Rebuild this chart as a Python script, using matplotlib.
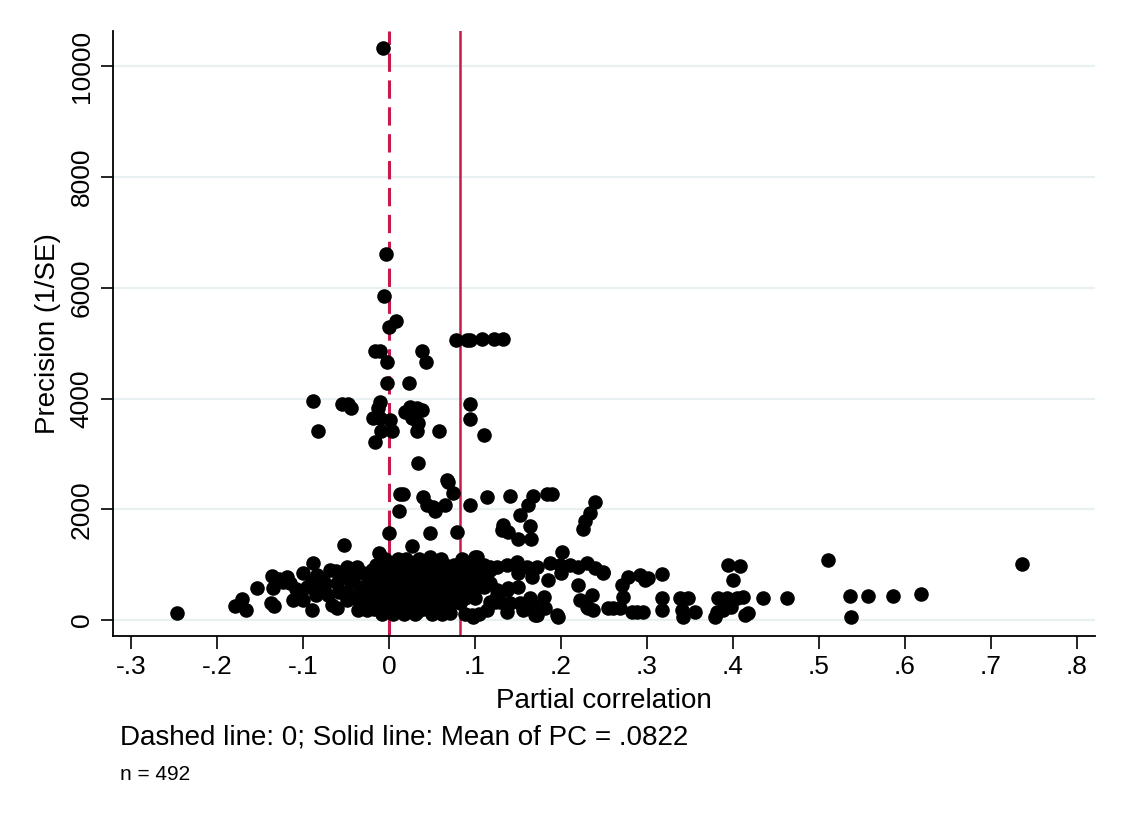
import numpy as np
import matplotlib
matplotlib.use('Agg')
from matplotlib import pyplot as plt

plt.rcParams['font.family'] = ['Liberation Sans', 'DejaVu Sans']

# (partial correlation, precision) pairs
upper = [
    (-0.007, 10340), (-0.003, 6618), (-0.006, 5860), (0.008, 5407), (0.000, 5298),
    (0.078, 5063), (0.091, 5063), (0.094, 5063), (0.108, 5080), (0.122, 5080), (0.133, 5080),
    (-0.016, 4864), (-0.010, 4864), (0.038, 4864), (-0.002, 4665), (0.043, 4665),
    (-0.002, 4286), (0.023, 4286), (-0.088, 3960), (-0.055, 3906), (-0.048, 3906),
    (-0.044, 3834), (-0.010, 3942), (-0.013, 3834), (-0.019, 3653), (-0.010, 3653),
    (0.001, 3617), (0.019, 3761), (0.024, 3852), (0.033, 3834), (0.038, 3797),
    (0.027, 3653), (0.034, 3562), (-0.083, 3418), (-0.009, 3418), (0.003, 3418),
    (0.033, 3418), (0.058, 3418), (-0.016, 3219), (0.094, 3906), (0.094, 3635),
    (0.110, 3345), (0.034, 2839), (0.067, 2532), (0.069, 2495), (0.074, 2297),
    (0.013, 2278), (0.016, 2278), (0.040, 2224), (0.044, 2080), (0.051, 2043),
    (0.053, 1971), (0.065, 2080), (0.012, 1971), (0.094, 2080), (0.114, 2224),
    (0.141, 2242), (0.167, 2242), (0.162, 2080), (0.152, 1899), (0.184, 2278),
    (0.190, 2278), (0.240, 2134), (0.234, 1935), (0.228, 1790), (0.226, 1646),
    (0.133, 1718), (0.164, 1700), (0.131, 1627), (0.138, 1591), (0.150, 1465),
    (0.165, 1465), (0.000, 1573), (0.048, 1573), (0.079, 1591), (0.201, 1230),
    (-0.052, 1356), (0.027, 1338), (-0.012, 1212),
]

left = [
    (-0.246, 127), (-0.179, 253), (-0.171, 380), (-0.166, 181), (-0.153, 579),
    (-0.136, 796), (-0.135, 579), (-0.137, 307), (-0.134, 253), (-0.119, 777),
    (-0.115, 669), (-0.100, 850), (-0.084, 814), (-0.095, 597), (-0.080, 579),
    (-0.069, 904), (-0.060, 669), (-0.049, 958), (-0.042, 777), (-0.037, 958),
    (-0.034, 597), (-0.112, 362), (-0.100, 362), (-0.090, 181), (-0.066, 271),
    (-0.060, 217), (-0.049, 362), (-0.036, 181), (-0.026, 181), (-0.019, 362),
    (-0.022, 723), (-0.014, 958), (-0.010, 850), (-0.007, 597), (-0.010, 416),
    (-0.005, 235), (-0.077, 723), (-0.071, 452), (-0.049, 506), (-0.103, 488),
    (-0.123, 690), (-0.088, 1031), (-0.128, 740), (-0.108, 560), (-0.090, 700),
    (-0.075, 650), (-0.055, 820), (-0.045, 700), (-0.030, 850), (-0.030, 450),
    (-0.058, 500), (-0.040, 400), (-0.085, 450), (-0.062, 880), (-0.028, 300),
]

# dense core between 0 and the mean line
core = [
    (-0.005, 1100), (0.010, 1100), (0.020, 1100), (0.035, 1100), (0.060, 1100), (0.085, 1100),
    (-0.015, 1000), (0.000, 1000), (0.012, 1000), (0.025, 1000), (0.040, 1000), (0.050, 1000),
    (0.065, 1000), (0.075, 1000), (0.090, 1000), (0.100, 1000), (0.110, 1000),
    (-0.020, 900), (-0.005, 900), (0.008, 900), (0.018, 900), (0.030, 900), (0.045, 900),
    (0.055, 900), (0.070, 900), (0.082, 900), (0.095, 900), (0.105, 900), (0.118, 900),
    (-0.025, 800), (-0.010, 800), (0.002, 800), (0.015, 800), (0.028, 800), (0.038, 800),
    (0.052, 800), (0.062, 800), (0.078, 800), (0.088, 800), (0.100, 800), (0.112, 800),
    (-0.018, 700), (-0.004, 700), (0.010, 700), (0.022, 700), (0.035, 700), (0.048, 700),
    (0.060, 700), (0.072, 700), (0.085, 700), (0.097, 700), (0.108, 700),
    (-0.022, 600), (-0.008, 600), (0.005, 600), (0.020, 600), (0.032, 600), (0.044, 600),
    (0.058, 600), (0.068, 600), (0.080, 600), (0.092, 600), (0.104, 600),
    (-0.015, 500), (0.000, 500), (0.013, 500), (0.026, 500), (0.040, 500), (0.055, 500),
    (0.066, 500), (0.078, 500), (0.090, 500),
    (-0.020, 400), (-0.006, 400), (0.008, 400), (0.022, 400), (0.035, 400), (0.050, 400),
    (0.062, 400), (0.075, 400), (0.088, 400), (0.100, 400),
    (-0.012, 300), (0.002, 300), (0.015, 300), (0.030, 300), (0.045, 300), (0.060, 300),
    (0.072, 300), (0.083, 300),
    (-0.018, 200), (-0.005, 200), (0.010, 200), (0.024, 200), (0.040, 200), (0.055, 200),
    (0.068, 200),
    (-0.008, 100), (0.005, 100), (0.018, 100), (0.030, 100), (0.050, 100), (0.062, 100),
    (0.088, 100), (0.105, 100),
]

right = [
    (0.048, 1139), (0.059, 1085), (0.102, 1139), (0.097, 868), (0.114, 904), (0.100, 1139),
    (0.117, 958), (0.126, 958), (0.137, 994), (0.149, 1049), (0.160, 958), (0.172, 958),
    (0.187, 1031), (0.199, 994), (0.210, 994), (0.220, 958), (0.230, 1031), (0.240, 940),
    (0.249, 850), (0.166, 777), (0.185, 723), (0.117, 669), (0.126, 542), (0.137, 542),
    (0.220, 633), (0.222, 362), (0.236, 452), (0.230, 235), (0.237, 181),
    (0.117, 325), (0.129, 325), (0.141, 307), (0.152, 307), (0.164, 398), (0.167, 271),
    (0.156, 181), (0.170, 90), (0.181, 217), (0.195, 90), (0.137, 145), (0.138, 579),
    (0.255, 217), (0.249, 868), (0.278, 777), (0.292, 814), (0.298, 723), (0.317, 832),
    (0.271, 633), (0.272, 416), (0.260, 217), (0.269, 217), (0.283, 145), (0.295, 145),
    (0.317, 398), (0.317, 181), (0.338, 398), (0.348, 398), (0.341, 181), (0.342, 54),
    (0.356, 145), (0.394, 994), (0.400, 723), (0.383, 398), (0.393, 398), (0.405, 398),
    (0.381, 145), (0.388, 181), (0.398, 235), (0.379, 54), (0.408, 976), (0.412, 416),
    (0.414, 90), (0.417, 127), (0.435, 398), (0.463, 398), (0.510, 1085), (0.536, 434),
    (0.557, 434), (0.586, 434), (0.619, 470), (0.537, 54), (0.736, 1012),
    (0.033, 145), (0.069, 145), (0.097, 90), (0.114, 181), (0.123, 325), (0.172, 90),
    (0.197, 54), (0.098, 54), (0.071, 127), (0.231, 217), (0.288, 145), (0.301, 760),
    (0.150, 850), (0.110, 600), (0.125, 450), (0.150, 600), (0.200, 850), (0.180, 420),
]

mean_pc = 0.0822
xticks = [-0.3, -0.2, -0.1, 0, 0.1, 0.2, 0.3, 0.4, 0.5, 0.6, 0.7, 0.8]
xticklabels = ['-.3', '-.2', '-.1', '0', '.1', '.2', '.3', '.4', '.5', '.6', '.7', '.8']
yticks = [0, 2000, 4000, 6000, 8000, 10000]

pts = np.array(upper + left + core + right)

fig = plt.figure(figsize=(11.25, 8.17), dpi=100)
ax = fig.add_axes([0.1004, 0.2216, 0.873, 0.740])

ax.scatter(pts[:, 0], pts[:, 1], s=110, color='black', zorder=3, linewidths=0)
red = '#c8194b'
ax.axvline(0, color=red, lw=2.2, ls=(0, (6, 2.8)), zorder=2)
ax.axvline(mean_pc, color=red, lw=1.8, zorder=2)

ax.set_xlim(-0.321, 0.821)
ax.set_ylim(-289, 10633)
ax.set_xticks(xticks)
ax.set_xticklabels(xticklabels)
ax.set_yticks(yticks)
ax.set_yticklabels([str(v) for v in yticks], rotation=90, va='center')
ax.tick_params(axis='both', direction='out', length=9, width=1.2, labelsize=19, pad=5)
ax.grid(axis='y', color='#e8f0f2', lw=1.6, zorder=0)
for s in ['top', 'right']:
    ax.spines[s].set_visible(False)
for s in ['left', 'bottom']:
    ax.spines[s].set_linewidth(1.3)

ax.set_xlabel('Partial correlation', fontsize=20, labelpad=6)
ax.set_ylabel('Precision (1/SE)', fontsize=20, labelpad=6)

fig.text(120 / 1125, 1 - 738 / 817, 'Dashed line: 0; Solid line: Mean of PC = .0822',
         fontsize=20, va='center', ha='left')
fig.text(120 / 1125, 1 - 774 / 817, 'n = 492', fontsize=15, va='center', ha='left')

fig.savefig('out.png', dpi=100, facecolor='white')
